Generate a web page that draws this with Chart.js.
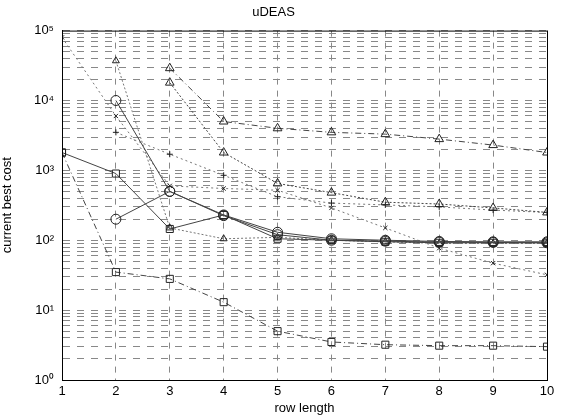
<!DOCTYPE html>
<html>
<head>
<meta charset="utf-8">
<script src="https://cdn.jsdelivr.net/npm/chart.js@4.4.1/dist/chart.umd.min.js"></script>
<style>
  html, body { margin: 0; padding: 0; background: #fff; }
  #wrap { width: 561px; height: 417px; position: relative; }
</style>
</head>
<body>
<div id="wrap"><canvas id="chart" width="561" height="417"></canvas></div>
<script>
// ---- data (uDEAS, log y) ----
const rowLength = [1, 2, 3, 4, 5, 6, 7, 8, 9, 10];
const decadeTicks = [1, 10, 100, 1000, 10000, 100000];

const triUpper  = [null, null, 29000, 5000, 4000, 3500, 3300, 2800, 2300, 1800];
const triLower  = [null, null, 18000, 1800, 650, 480, 350, 330, 290, 250];
const circHigh  = [null, 10000, 500, 230, 130, 105, 100, 96, 95, 95];
const circLow   = [null, 200, 500, 225, 120, 100, 97, 94, 93, 92];
const squares   = [1800, 900, 145, 230, 105, 100, 95, 92, 92, 92];
const lowCost   = [1800, 35, 28, 13, 5, 3.5, 3.2, 3.1, 3.1, 3];
const dotSteep  = [null, 37000, 150, 105, 110, 100, 95, 90, 90, 90];
const dotLong   = [null, 3500, 1700, 850, 420, 340, 320, 300, 270, 250];
const dotTop    = [80000, 6000, 600, 550, 520, 290, 150, 77, 47, 32];

const FONT = 'Liberation Sans, Arial, sans-serif';

function toPoints(values) {
  return rowLength.map((x, i) => ({ x, y: values[i] })).filter(p => p.y != null);
}

function series(label, values, pointStyle, dash, color, radius) {
  return {
    label,
    data: toPoints(values),
    borderColor: color || '#444',
    borderWidth: 1,
    borderDash: dash,
    pointStyle,
    pointRadius: radius || 5,
    pointBorderColor: '#222',
    pointBackgroundColor: 'rgba(0,0,0,0)',
    pointBorderWidth: 1,
    fill: false,
    tension: 0
  };
}

// box around the plot area, like the matlab axes
const frame = {
  id: 'frame',
  afterDraw(chart) {
    const { ctx, chartArea: a } = chart;
    ctx.save();
    ctx.strokeStyle = '#000';
    ctx.lineWidth = 1;
    ctx.strokeRect(a.left + 0.5, a.top + 0.5, a.right - a.left, a.bottom - a.top);
    ctx.restore();
  }
};

new Chart(document.getElementById('chart'), {
  type: 'line',
  data: {
    datasets: [
      series('triUpper', triUpper, 'triangle', [6, 3, 1, 3]),
      series('triLower', triLower, 'triangle', [2, 2]),
      series('circHigh', circHigh, 'circle', []),
      series('circLow', circLow, 'circle', []),
      series('squares', squares, 'rect', []),
      series('lowCost', lowCost, 'rect', [6, 3, 1, 3]),
      series('dotSteep', dotSteep, 'triangle', [2, 2], '#777', 4),
      series('dotLong', dotLong, 'cross', [2, 3], '#777', 3),
      series('dotTop', dotTop, 'crossRot', [2, 3], '#777', 3)
    ]
  },
  options: {
    responsive: false,
    animation: false,
    layout: { padding: { left: 0, right: 14, top: 0, bottom: 0 } },
    plugins: {
      legend: { display: false },
      tooltip: { enabled: false },
      title: {
        display: true,
        text: 'uDEAS',
        color: '#000',
        font: { family: FONT, size: 13, weight: 'normal' },
        padding: { top: 5, bottom: 10 }
      }
    },
    scales: {
      x: {
        type: 'linear',
        min: 1,
        max: 10,
        afterFit(scale) { scale.height = 37; },
        ticks: { stepSize: 1, color: '#000', font: { family: FONT, size: 13 }, padding: 4 },
        grid: { color: '#888', drawTicks: false },
        border: { display: true, color: '#000', dash: [6, 6] },
        title: { display: true, text: 'row length', color: '#000', font: { family: FONT, size: 13 }, padding: { top: 0, bottom: 1 } }
      },
      y: {
        type: 'logarithmic',
        min: 1,
        max: 100000,
        afterBuildTicks(scale) {
          const t = [];
          for (let p = 1; p < 100000; p *= 10) for (let m = 1; m < 10; m++) t.push({ value: m * p });
          t.push({ value: 100000 });
          scale.ticks = t;
        },
        afterFit(scale) { scale.width = 62; },
        ticks: {
          color: '#000',
          font: { family: FONT, size: 13 },
          autoSkip: false,
          padding: 8,
          callback(v) {
            if (!decadeTicks.includes(v)) return '';
            const sup = '⁰¹²³⁴⁵';
            return '10' + sup[Math.round(Math.log10(v))];
          }
        },
        grid: { color: '#888', drawTicks: false },
        border: { display: true, color: '#000', dash: [7, 7] },
        title: { display: true, text: 'current best cost', color: '#000', font: { family: FONT, size: 13 }, padding: { top: 0, bottom: 2 } }
      }
    }
  },
  plugins: [frame]
});
</script>
</body>
</html>
